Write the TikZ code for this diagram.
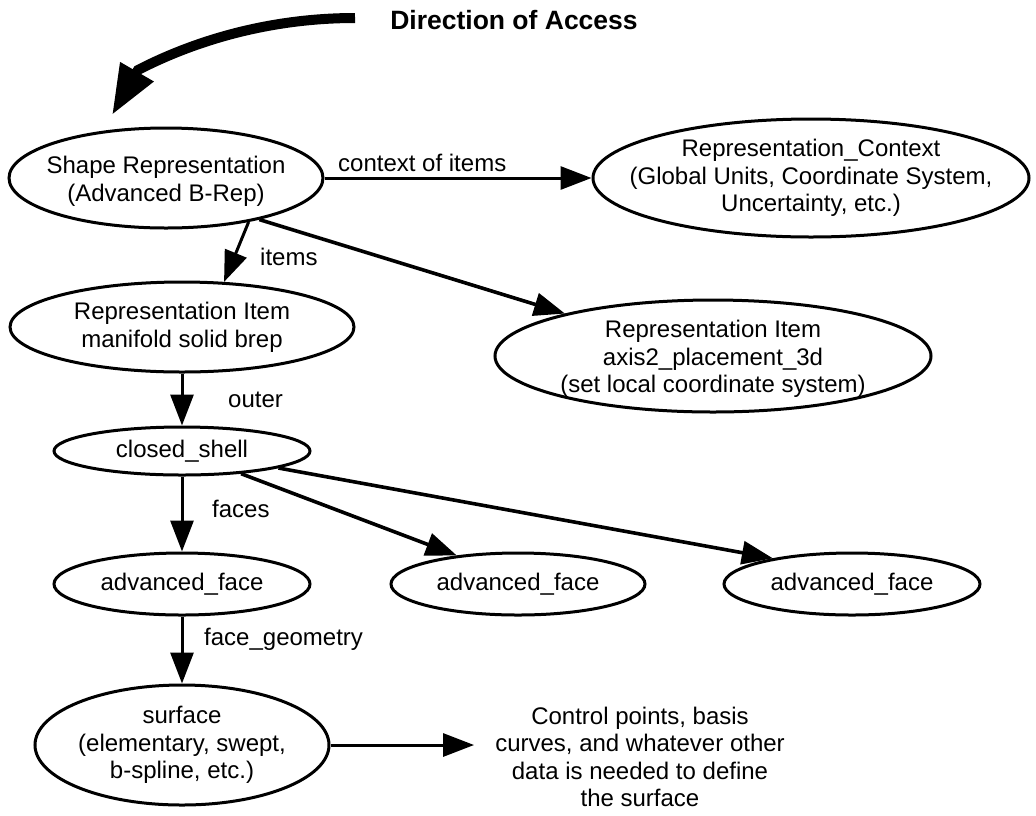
\documentclass[tikz,border=0pt]{standalone}
\usepackage{fontspec}
\setmainfont{Liberation Sans}
\usetikzlibrary{arrows.meta,shapes.geometric}
\begin{document}
\begin{tikzpicture}[x=1pt,y=-1pt,
  every node/.style={font=\fontsize{24}{27.6}\selectfont},
  entity/.style={ellipse,draw,line width=3pt,inner sep=0pt},
  txt/.style={align=center,inner sep=0pt},
  lbl/.style={inner sep=0pt,anchor=base west},
  link/.style={line width=3pt,-{Triangle[length=31pt,width=23pt]}},
  slant/.style={link,line width=3.6pt},
  access/.style={line width=10pt,-{Triangle[length=50pt,width=36pt]}},
]
\useasboundingbox (0,0) rectangle (1036,815);

% heading and the sweeping access arrow
\node[font=\fontsize{26.5}{30}\selectfont\bfseries,inner sep=0pt] (title) at (514,20) {Direction of Access};
\coordinate (accS) at (355,18);
\coordinate (accB) at (138,70);
\coordinate (accT) at (112,115);
\draw[access] (accS) .. controls (275,18) and (200,38) .. (accB) -- (accT);

% entities
\node[entity,minimum width=314pt,minimum height=100pt,
      label={[txt,yshift=-3pt]center:{Shape Representation\\(Advanced B-Rep)}}] (sr) at (166,178) {};
\node[entity,minimum width=436pt,minimum height=118pt,
      label={[txt]center:{Representation\_Context\\(Global Units, Coordinate System,\\Uncertainty, etc.)}}] (rc) at (811,178) {};
\node[entity,minimum width=344pt,minimum height=90pt,
      label={[txt]center:{Representation Item\\manifold solid brep}}] (ri1) at (182,327) {};
\node[entity,minimum width=436pt,minimum height=112pt,
      label={[txt,yshift=-3pt]center:{Representation Item\\axis2\_placement\_3d\\(set local coordinate system)}}] (ri2) at (713,356) {};
\node[entity,minimum width=256pt,minimum height=48pt,
      label={[txt]center:{closed\_shell}}] (cs) at (182,451) {};
\node[entity,minimum width=256pt,minimum height=62pt,
      label={[txt]center:{advanced\_face}}] (af1) at (182,584) {};
\node[entity,minimum width=254pt,minimum height=62pt,
      label={[txt]center:{advanced\_face}}] (af2) at (518,584) {};
\node[entity,minimum width=256pt,minimum height=62pt,
      label={[txt]center:{advanced\_face}}] (af3) at (852,584) {};
\node[entity,minimum width=294pt,minimum height=120pt,
      label={[txt]center:{surface\\(elementary, swept,\\b-spline, etc.)}}] (surf) at (182,745) {};
\node[txt,inner xsep=21pt] (ct) at (640,757)
  {Control points, basis\\curves, and whatever other\\data is needed to define\\the surface};

% relations
\draw[link] (sr.east) -- (rc.west);
\draw[link] (sr.-28) -- (ri1.47);
\draw[slant] (sr.-24) -- (ri2.164);
\draw[link] (ri1.south) -- (cs.north);
\draw[link] (cs.south) -- (af1.north);
\draw[slant] (cs.-21) -- (af2.155);
\draw[slant] (cs.-10) -- (af3.162);
\draw[link] (af1.south) -- (surf.north);
\draw[link] (surf.east) -- (surf.east -| ct.west);

% relation names
\node[lbl] (lctx) at (338,171) {context of items};
\node[lbl] (litems) at (260,265) {items};
\node[lbl] (louter) at (228,407) {outer};
\node[lbl] (lfaces) at (212,517) {faces};
\node[lbl] (lgeom) at (204,645) {face\_geometry};
\end{tikzpicture}
\end{document}
